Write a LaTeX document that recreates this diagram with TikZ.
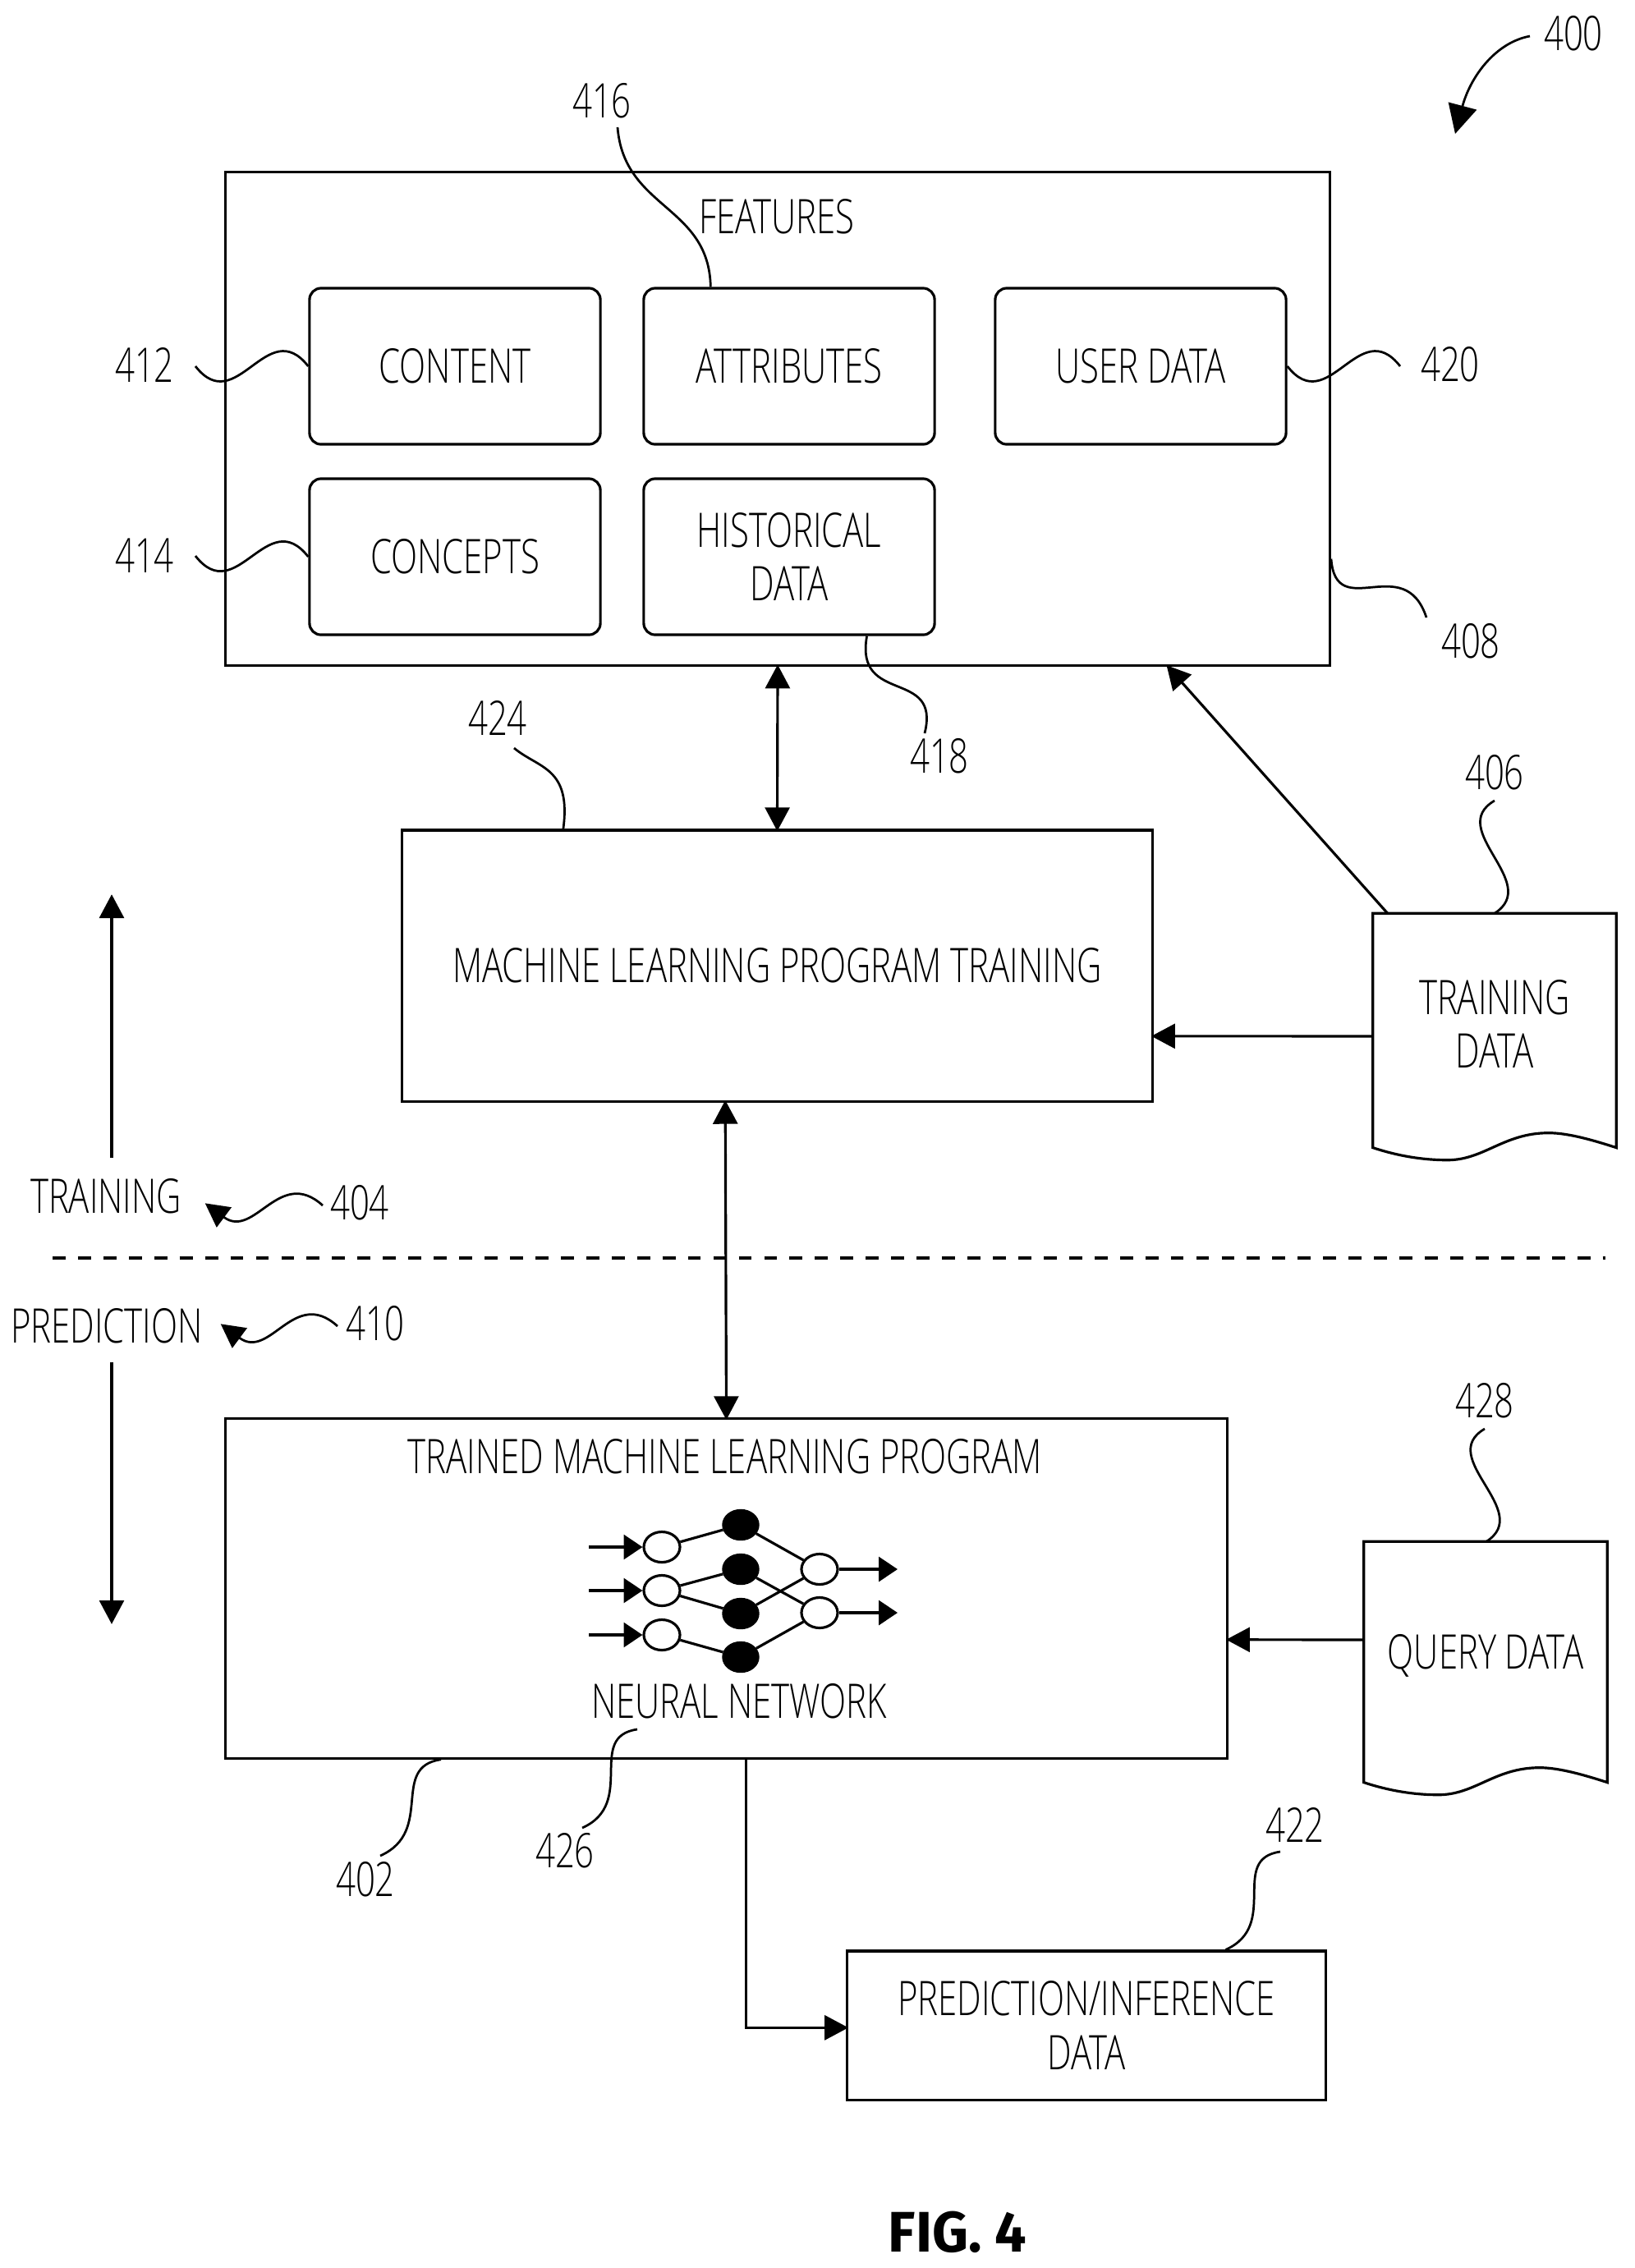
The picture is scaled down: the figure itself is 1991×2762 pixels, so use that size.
\documentclass[tikz,border=0pt]{standalone}
\usepackage{fontspec}
\setmainfont{Open Sans Light}[FakeStretch=0.722]
\newfontfamily\figfont{Fira Sans}[FakeStretch=0.98,BoldFont={* Bold}]
\usetikzlibrary{arrows.meta,shapes.geometric}
\tikzset{
	line/.style={line width=0.9pt},
	tip/.style={-{Triangle[length=8.2pt,width=8.5pt]},shorten >=-0.8pt},
	bothtips/.style={{Triangle[length=8.2pt,width=8.5pt]}-{Triangle[length=8.2pt,width=8.5pt]},shorten >=-0.8pt,shorten <=-0.8pt},
	smalltip/.style={-{Triangle[length=6.5pt,width=8.5pt]}},
	boxnode/.style={draw,line,rectangle,inner sep=0pt,align=center},
	roundbox/.style={boxnode,rounded corners=4pt,minimum width=3.54cm,minimum height=1.9cm},
	docnode/.style={rectangle,inner sep=0pt,align=center,minimum width=2.95cm},
	label/.style={inner sep=0pt,align=center},
	leader/.style={line width=0.78pt},
	openunit/.style={draw,line,ellipse,inner sep=0pt,minimum width=0.44cm,minimum height=0.37cm},
	fullunit/.style={draw,fill=black,ellipse,inner sep=0pt,minimum width=0.44cm,minimum height=0.37cm}
}
\newcommand{\docwave}[1]{
	\draw[line] (#1.north west) -- ([yshift=-4.5pt]#1.south west)
		.. controls +(30,10) and +(-30,0) .. ([xshift=25.8pt,yshift=-8.8pt]#1.south west)
		.. controls +(45,0) and +(-55,0) .. ([xshift=60.9pt,yshift=0.6pt]#1.south west)
		.. controls +(25,0) and +(-25,-8) .. ([yshift=-4.5pt]#1.south east)
		-- (#1.north east) -- cycle;
}
\begin{document}
\begin{tikzpicture}[x=0.01cm,y=-0.01cm,font=\fontsize{16.5pt}{18.6pt}\selectfont]
	\useasboundingbox (0,0) rectangle (1991,2762);
	% features
	\node[boxnode,minimum width=13.44cm,minimum height=6.01cm] (features) at (947,510) {};
	\node[label] (featurestitle) at (946,264) {FEATURES};
	\node[roundbox] (content) at (554,446) {CONTENT};
	\node[roundbox] (attributes) at (961,446) {ATTRIBUTES};
	\node[roundbox] (userdata) at (1389,446) {USER DATA};
	\node[roundbox] (concepts) at (554,678) {CONCEPTS};
	\node[roundbox] (historical) at (961,678) {HISTORICAL\\DATA};
	% main boxes
	\node[boxnode,minimum width=9.13cm,minimum height=3.3cm] (training) at (946.5,1176) {MACHINE LEARNING PROGRAM TRAINING};
	\node[docnode,minimum height=2.68cm] (trainingdata) at (1820,1247) {TRAINING\\DATA};
	\node[boxnode,minimum width=12.19cm,minimum height=4.13cm] (trained) at (884.5,1934.5) {};
	\node[label] (trainedtitle) at (883,1774) {TRAINED MACHINE LEARNING PROGRAM};
	\node[label] (network) at (900,2072) {NEURAL NETWORK};
	\node[docnode,minimum height=2.76cm] (querydata) at (1809,2016) {QUERY DATA};
	\node[boxnode,minimum width=5.82cm,minimum height=1.81cm] (prediction) at (1323,2466.5) {PREDICTION/INFERENCE\\DATA};
	\docwave{trainingdata}
	\docwave{querydata}
	% side labels
	\node[label] (traininglabel) at (129,1457) {TRAINING};
	\node[label] (predictionlabel) at (130,1615) {PREDICTION};
	\coordinate (dashleft) at (64,1532);
	\coordinate (dashright) at (1955,1532);
	\coordinate (upstart) at (136,1410);
	\coordinate (upend) at (136,1092);
	\coordinate (downstart) at (136,1659);
	\coordinate (downend) at (136,1975);
	\draw[line,dash pattern=on 4.5pt off 4.3pt] (dashleft) -- (dashright);
	\draw[line,tip] (upstart) -- (upend);
	\draw[line,tip] (downstart) -- (downend);
	% connections
	\draw[line,bothtips] (features.south) -- (training.north);
	\draw[line,bothtips] ([xshift=-18pt]training.south) -- (trained.north);
	\draw[line,tip] ([xshift=5.1pt]trainingdata.north west) -- ([xshift=135.2pt]features.south);
	\draw[line,tip] ([yshift=-4.25pt]trainingdata.west) -- ([yshift=-24.4pt]training.east);
	\draw[line,tip] ([yshift=5.4pt]querydata.west) -- ([yshift=-17.7pt]trained.east);
	\draw[line,tip] ([xshift=6.9pt]trained.south) |- ([yshift=-0.8pt]prediction.west);
	% neural network
	\foreach \i/\y in {1/1884,2/1937,3/1991}{
		\node[openunit] (in\i) at (806,\y) {};
		\coordinate (src\i) at (717,\y);
		\draw[line,smalltip] (src\i) -- (in\i);
	}
	\foreach \i/\y in {1/1857,2/1911,3/1965,4/2018}
		\node[fullunit] (hid\i) at (902,\y) {};
	\foreach \i/\y in {1/1911,2/1964}{
		\node[openunit] (out\i) at (998,\y) {};
		\coordinate (dst\i) at (1093,\y);
		\draw[line,smalltip] (out\i) -- (dst\i);
	}
	\foreach \a/\b in {in1/hid1,in2/hid2,in2/hid3,in3/hid4,hid1/out1,hid2/out2,hid3/out1,hid4/out2}
		\draw[line] (\a) -- (\b);
	% reference numerals
	\node[label] (n400) at (1916,41) {400};
	\node[label] (n416) at (733,123) {416};
	\node[label] (n412) at (176,444) {412};
	\node[label] (n414) at (176,677) {414};
	\node[label] (n420) at (1766,444) {420};
	\node[label] (n408) at (1791,781) {408};
	\node[label] (n418) at (1144,921) {418};
	\node[label] (n424) at (606,874) {424};
	\node[label] (n406) at (1820,941) {406};
	\node[label] (n404) at (438,1465) {404};
	\node[label] (n410) at (457,1612) {410};
	\node[label] (n428) at (1808,1706) {428};
	\node[label] (n426) at (688,2254) {426};
	\node[label] (n402) at (445,2289) {402};
	\node[label] (n422) at (1577,2222) {422};
	\coordinate (c400a) at (1863,44);
	\coordinate (c400b) at (1772,163);
	\coordinate (c416) at (752,155);
	\coordinate (c412) at (238,446);
	\coordinate (c414) at (238,677);
	\coordinate (c420) at (1705,446);
	\coordinate (c408) at (1737,752);
	\coordinate (c418) at (1126,893);
	\coordinate (c424) at (626,911);
	\coordinate (c406) at (1820,975);
	\coordinate (c404a) at (393,1468);
	\coordinate (c404b) at (252,1467);
	\coordinate (c410a) at (411,1615);
	\coordinate (c410b) at (271,1614);
	\coordinate (c428) at (1808,1740);
	\coordinate (c426a) at (709,2226);
	\coordinate (c426b) at (776,2106);
	\coordinate (c402) at (463,2260);
	\coordinate (c422b) at (1559,2255);
	\draw[leader,-{Triangle[length=10pt,width=10pt]}] (c400a) .. controls +(-43,8) and +(18,-68) .. (c400b);
	\draw[leader,tip] (c404a) .. controls +(-53,-48) and +(58,43) .. (c404b);
	\draw[leader,tip] (c410a) .. controls +(-53,-48) and +(58,43) .. (c410b);
	\draw[leader] (c416) .. controls +(8,100) and +(-2,-100) .. ([xshift=-27.2pt]attributes.north);
	\draw[leader] (c412) .. controls +(50,64) and +(-50,-64) .. (content.west);
	\draw[leader] (c414) .. controls +(50,64) and +(-50,-64) .. (concepts.west);
	\draw[leader] (c420) .. controls +(-50,-64) and +(50,64) .. (userdata.east);
	\draw[leader] (c408) .. controls +(-27,-82) and +(6,79) .. ([yshift=-48.5pt]features.east);
	\draw[leader] (c418) .. controls +(20,-80) and +(-15,85) .. ([xshift=26.9pt]historical.south);
	\draw[leader] (c424) .. controls +(30,25) and +(10,-75) .. ([xshift=-74.1pt]training.north);
	\draw[leader] (c406) .. controls +(-60,35) and +(58,-37) .. (trainingdata.north);
	\draw[leader] (c428) .. controls +(-60,35) and +(58,-37) .. ([xshift=0.3pt]querydata.north);
	\draw[leader] (c426a) .. controls +(67,-30) and +(-63,9) .. (c426b);
	\draw[leader] (c402) .. controls +(67,-30) and +(-63,9) .. ([xshift=-98.8pt]trained.south);
	\draw[leader] ([xshift=48.2pt]prediction.north) .. controls +(67,-30) and +(-63,9) .. (c422b);
	\node[inner sep=0pt,font=\figfont\bfseries\fontsize{19.8pt}{21pt}\selectfont] (figlabel) at (1166,2718) {FIG. 4};
\end{tikzpicture}
\end{document}
